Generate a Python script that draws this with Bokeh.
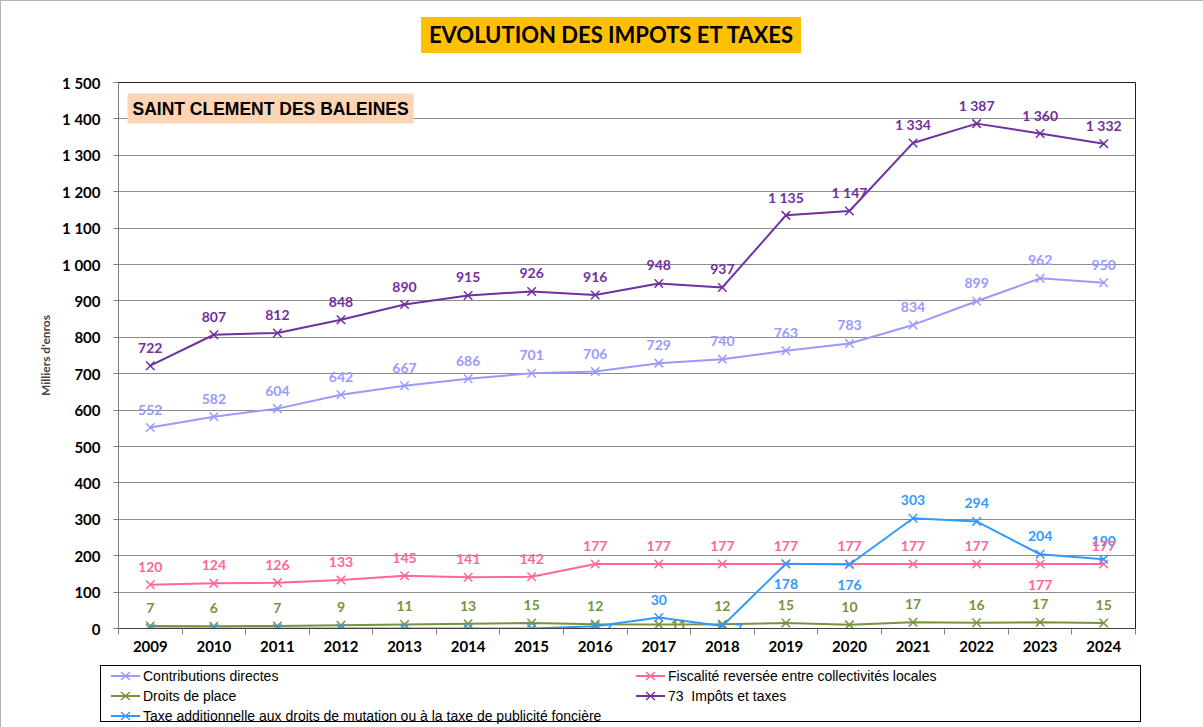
from bokeh.plotting import figure
from bokeh.layouts import column
from bokeh.models import ColumnDataSource, Range1d, FixedTicker, Label, Div
from bokeh.core.properties import value
from bokeh.embed import file_html
from bokeh.resources import INLINE

# ---------------- data ----------------
years = [str(y) for y in range(2009, 2025)]
contributions = [552, 582, 604, 642, 667, 686, 701, 706, 729, 740, 763, 783, 834, 899, 962, 950]
fiscalite = [120, 124, 126, 133, 145, 141, 142, 177, 177, 177, 177, 177, 177, 177, 177, 177]
droits = [7, 6, 7, 9, 11, 13, 15, 12, 11, 12, 15, 10, 17, 16, 17, 15]
impots = [722, 807, 812, 848, 890, 915, 926, 916, 948, 937, 1135, 1147, 1334, 1387, 1360, 1332]
taxe = [0, 0, 0, 0, 0, 0, 0, 6, 30, 7, 178, 176, 303, 294, 204, 190]
y_ticks = list(range(0, 1501, 100))

names = {
    "contrib": "Contributions directes",
    "fisc": "Fiscalité reversée entre collectivités locales",
    "droits": "Droits de place",
    "impots": "73  Impôts et taxes",
    "taxe": "Taxe additionnelle aux droits de mutation ou à la taxe de publicité foncière",
}
colors = {
    "contrib": "#9999FF",
    "fisc": "#FF6699",
    "droits": "#77933C",
    "impots": "#7030A0",
    "taxe": "#3399FF",
}
# label offsets (style) : default above the point
label_offsets = {
    ("taxe", 7): (15, 3), ("taxe", 9): (16, 3),
    ("taxe", 10): (0, 20), ("taxe", 11): (0, 21),
    ("droits", 8): (20, 1),
    ("fisc", 14): (0, 21),
}

def fmt(v):
    return f"{v:,}".replace(",", " ")

NUM_FONT = "Lato"
LEG_FONT = "Liberation Sans"
FRAME_LINE = "1px solid #b4b4b4"

# ---------------- title strip ----------------
title_html = (
    '<div style="position:relative;width:1203px;height:72px;">'
    '<div style="position:absolute;left:420px;top:16px;width:380px;height:36px;'
    'background:#FFC000;display:flex;align-items:center;justify-content:center;'
    'font-family:Lato;font-weight:bold;font-size:22px;color:black;'
    'white-space:nowrap;">EVOLUTION DES IMPOTS ET TAXES</div></div>'
)
title_div = Div(text=title_html, width=1203, height=72, margin=0,
                styles={"border-left": FRAME_LINE, "border-top": FRAME_LINE})

# ---------------- main chart ----------------
xs = [i + 0.5 for i in range(len(years))]

p = figure(frame_width=1016, frame_height=546,
           x_range=Range1d(0, len(years)), y_range=Range1d(0, 1500),
           output_backend="svg", toolbar_location=None,
           min_border_left=117, min_border_right=70, min_border_top=10,
           min_border_bottom=35,
           background_fill_color="white", border_fill_color="white")
p.outline_line_color = "#202020"
p.outline_line_width = 1

p.xaxis.ticker = FixedTicker(ticks=xs, minor_ticks=list(range(len(years) + 1)))
p.xaxis.major_label_overrides = {x: y for x, y in zip(xs, years)}
p.xaxis.major_tick_line_color = None
p.xaxis.minor_tick_out = 6
p.xaxis.minor_tick_in = 0
p.xaxis.minor_tick_line_color = "#808080"
p.xaxis.axis_line_color = "#404040"
p.xaxis.major_label_text_font = NUM_FONT
p.xaxis.major_label_text_font_style = "bold"
p.xaxis.major_label_text_font_size = "15px"
p.xaxis.major_label_text_color = "black"
p.xaxis.major_label_standoff = 6

p.yaxis.ticker = FixedTicker(ticks=y_ticks, minor_ticks=[])
p.yaxis.major_label_overrides = {t: fmt(t) for t in y_ticks}
p.yaxis.major_tick_out = 5
p.yaxis.major_tick_in = 0
p.yaxis.major_tick_line_color = "#808080"
p.yaxis.axis_line_color = "#808080"
p.yaxis.major_label_text_font = NUM_FONT
p.yaxis.major_label_text_font_style = "bold"
p.yaxis.major_label_text_font_size = "15px"
p.yaxis.major_label_text_color = "black"
p.yaxis.major_label_standoff = 13
p.yaxis.axis_label = "Milliers d'enros"
p.yaxis.axis_label_text_font = NUM_FONT
p.yaxis.axis_label_text_font_style = "bold"
p.yaxis.axis_label_text_font_size = "12px"
p.yaxis.axis_label_standoff = 6

p.xgrid.grid_line_color = None
p.ygrid.grid_line_color = "#8c8c8c"
p.ygrid.grid_line_width = 1.2

series = [
    ("contrib", contributions),
    ("fisc", fiscalite),
    ("droits", droits),
    ("taxe", taxe),
    ("impots", impots),
]

for key, vals in series:
    src = ColumnDataSource(dict(x=xs, y=vals))
    p.line("x", "y", source=src, line_color=colors[key], line_width=2)
    p.scatter("x", "y", source=src, marker="x", size=12,
              line_color=colors[key], line_width=1.5)

# data labels (taxe before fisc so pink lies on top)
label_order = ["contrib", "droits", "taxe", "fisc", "impots"]
data = dict(series)
for key in label_order:
    vals = data[key]
    lx, ly, lt, ox, oy = [], [], [], [], []
    for i, v in enumerate(vals):
        if v == 0:
            continue
        dx, dy = label_offsets.get((key, i), (0, -18))
        lx.append(xs[i]); ly.append(v); lt.append(fmt(v))
        ox.append(dx); oy.append(dy)
    src = ColumnDataSource(dict(x=lx, y=ly, t=lt, ox=ox, oy=oy))
    p.text("x", "y", text="t", source=src, x_offset="ox", y_offset="oy",
           text_align="center", text_baseline="middle",
           text_font=value(NUM_FONT), text_font_style="bold",
           text_font_size="14px", text_color=colors[key])

sub = Label(x=(126 - 117) / 63.5, y=(628 - 108) / 0.364,
            text="SAINT CLEMENT DES BALEINES",
            text_align="left", text_baseline="middle",
            text_font="Liberation Sans", text_font_style="bold",
            text_font_size="17.5px", text_color="black",
            background_fill_color="#FCD5B4", padding=5)
p.add_layout(sub)
p.styles = {"border-left": FRAME_LINE}

# ---------------- legend strip ----------------
legend_layout = [("contrib", 0, 0), ("droits", 0, 1), ("taxe", 0, 2),
                 ("fisc", 1, 0), ("impots", 1, 1)]
col_x = [110, 635]
row_top = [3, 23, 43]

def glyph_svg(color):
    return (f'<svg width="29" height="16" style="display:block;flex:none;">'
            f'<line x1="0" y1="8" x2="29" y2="8" stroke="{color}" stroke-width="2"/>'
            f'<line x1="10" y1="4" x2="19" y2="12" stroke="{color}" stroke-width="1.5"/>'
            f'<line x1="10" y1="12" x2="19" y2="4" stroke="{color}" stroke-width="1.5"/>'
            f'</svg>')

parts = ['<div style="position:relative;width:1203px;height:64px;">',
         '<div style="position:absolute;left:99px;top:2px;width:1041px;height:57px;'
         'border:1px solid black;box-sizing:border-box;"></div>']
for key, c, r in legend_layout:
    parts.append(
        f'<div style="position:absolute;left:{col_x[c]}px;top:{row_top[r]}px;'
        f'height:20px;display:flex;align-items:center;white-space:pre;'
        f"font-family:'Liberation Sans';font-size:14px;color:black;\">"
        f'{glyph_svg(colors[key])}<span style="margin-left:3px;">{names[key]}</span></div>'
    )
parts.append('</div>')
legend_div = Div(text="".join(parts), width=1203, height=64, margin=0,
                 styles={"border-left": FRAME_LINE})

layout = column(title_div, p, legend_div, spacing=0)
open("out.html", "w").write(file_html(layout, INLINE))
